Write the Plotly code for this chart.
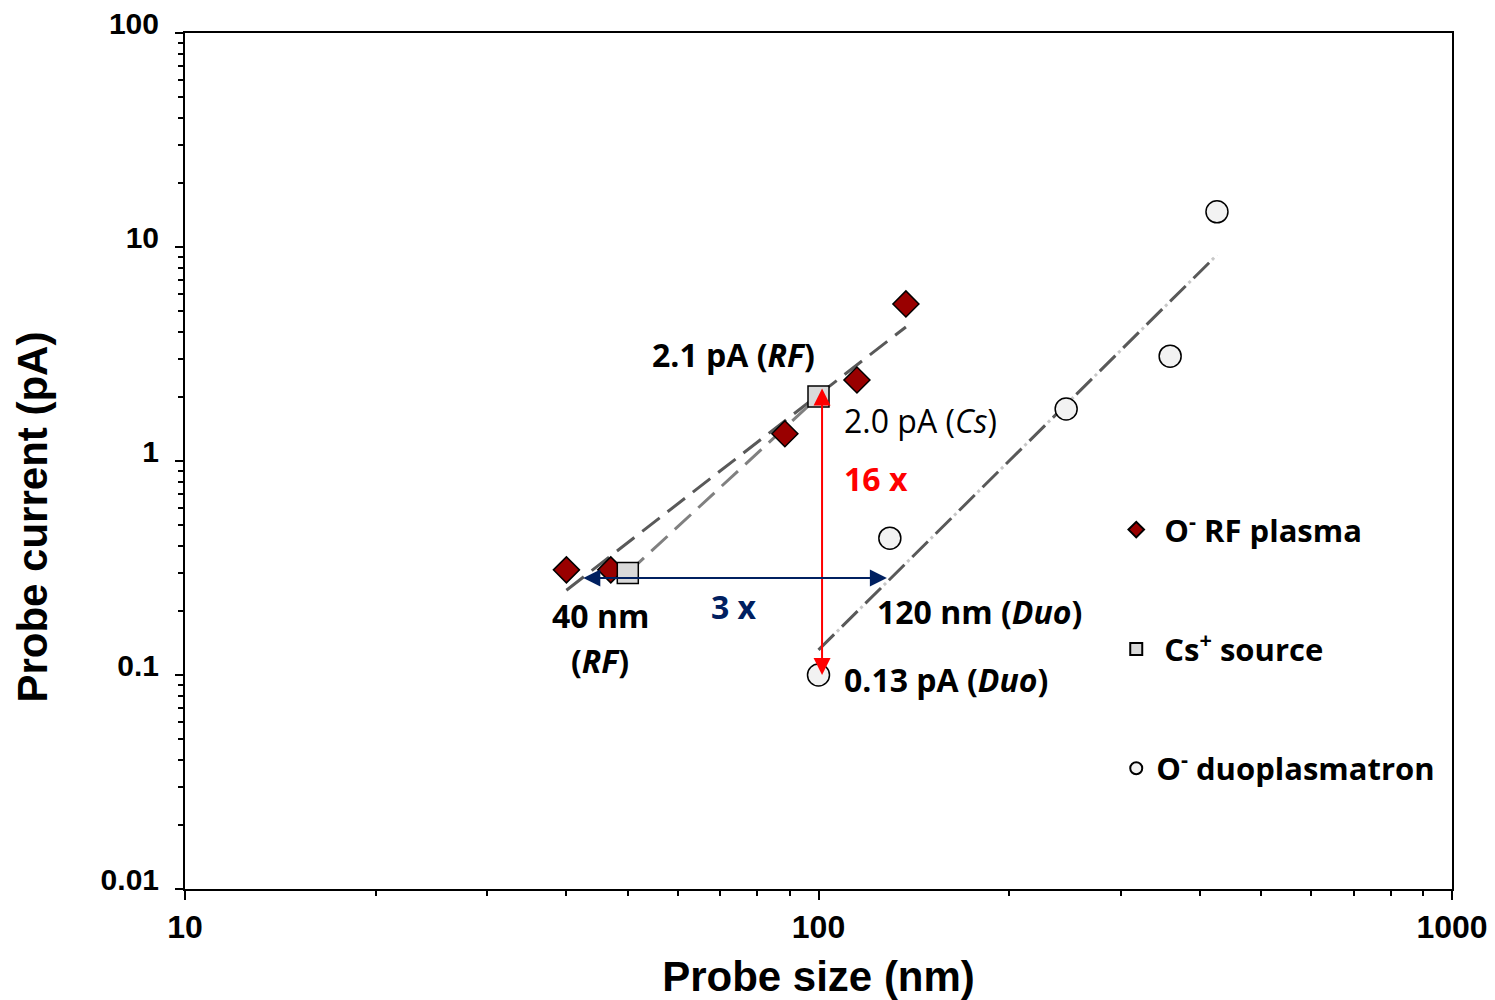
import numpy as np
import plotly.graph_objects as go

# ---------------- data ----------------
rf_size = [40, 47, 88.5, 115, 137.4]
rf_current = [0.31, 0.31, 1.34, 2.39, 5.42]

cs_size = [50, 100]
cs_current = [0.30, 2.0]

duo_size = [100, 129.6, 246, 359, 425.6]
duo_current = [0.10, 0.436, 1.75, 3.09, 14.6]

# trend-line end points
rf_fit_size = [40, 137.4]
rf_fit_current = [0.249, 4.23]
cs_fit_size = [50, 100]
cs_fit_current = [0.30, 2.0]
duo_fit_size = [100, 425.6]
duo_fit_current = [0.131, 9.18]

# arrows (data values)
red_arrow_x = 101.3
red_arrow_y = [2.22, 0.10]
blue_arrow_y = 0.284
blue_arrow_x = [42.3, 128.2]

x_tickvals = [10, 100, 1000]
x_ticktext = ["10", "100", "1000"]
y_tickvals = [0.01, 0.1, 1, 10, 100]
y_ticktext = ["0.01", "0.1", "1", "10", "100"]

legend_names = ["\u00a0O<sup>-</sup> RF plasma", "\u00a0Cs<sup>+</sup> source", "O<sup>-</sup> duoplasmatron"]

# ---------------- figure ----------------
AX_FONT = "Liberation Sans, Arial, sans-serif"
LB_FONT = "Open Sans, Lato, sans-serif"

fig = go.Figure()

# trend lines
fig.add_trace(go.Scatter(x=rf_fit_size, y=rf_fit_current, mode="lines",
                         line=dict(color="#595959", width=3, dash="22px,10px"),
                         showlegend=False, hoverinfo="skip"))
fig.add_trace(go.Scatter(x=cs_fit_size, y=cs_fit_current, mode="lines",
                         line=dict(color="#808080", width=3, dash="22px,10px"),
                         showlegend=False, hoverinfo="skip"))
fig.add_trace(go.Scatter(x=duo_fit_size, y=duo_fit_current, mode="lines",
                         line=dict(color="#C8C8C8", width=3, dash="0px,26px,3px,4px"),
                         showlegend=False, hoverinfo="skip"))
fig.add_trace(go.Scatter(x=duo_fit_size, y=duo_fit_current, mode="lines",
                         line=dict(color="#595959", width=3, dash="22px,11px"),
                         showlegend=False, hoverinfo="skip"))

# data markers
fig.add_trace(go.Scatter(x=rf_size, y=rf_current, mode="markers", name=legend_names[0],
                         legendgroup="a",
                         marker=dict(symbol="diamond", size=20, color="#990000",
                                     line=dict(color="black", width=1.5))))
fig.add_trace(go.Scatter(x=cs_size, y=cs_current, mode="markers", name=legend_names[1],
                         legendgroup="b",
                         marker=dict(symbol="square", size=21, color="#D9D9D9",
                                     line=dict(color="black", width=1.5))))
fig.add_trace(go.Scatter(x=duo_size, y=duo_current, mode="markers", name=legend_names[2],
                         legendgroup="c",
                         marker=dict(symbol="circle", size=22, color="#F2F2F2",
                                     line=dict(color="black", width=1.5))))

lx = np.log10
annotations = []

def label(x, y, text, xanchor="center", color="black", bold=True, size=32):
    annotations.append(dict(x=lx(x), y=lx(y), xref="x", yref="y", text=text,
                            showarrow=False, xanchor=xanchor, yanchor="middle",
                            font=dict(family=LB_FONT, size=size, color=color,
                                      weight="bold" if bold else "normal")))

label(73.3, 3.16, "2.1 pA (<i>RF</i>)")
label(108.8, 1.54, "2.0 pA (<i>Cs</i>)", xanchor="left", bold=False)
label(108.8, 0.824, "16 x", xanchor="left", color="#FF0000")
label(73.5, 0.208, "3 x", color="#002060")
label(45.2, 0.189, "40 nm")
label(45.2, 0.1175, "(<i>RF</i>)")
label(123.0, 0.197, "120 nm (<i>Duo</i>)", xanchor="left")
label(108.8, 0.0957, "0.13 pA (<i>Duo</i>)", xanchor="left")

# arrows
annotations.append(dict(x=lx(red_arrow_x), y=lx(red_arrow_y[1]),
                        ax=lx(red_arrow_x), ay=lx(red_arrow_y[0]),
                        xref="x", yref="y", axref="x", ayref="y", text="",
                        showarrow=True, arrowhead=2, arrowside="end+start",
                        arrowsize=1.7, arrowwidth=2, arrowcolor="#FF0000"))
annotations.append(dict(x=lx(blue_arrow_x[1]), y=lx(blue_arrow_y),
                        ax=lx(blue_arrow_x[0]), ay=lx(blue_arrow_y),
                        xref="x", yref="y", axref="x", ayref="y", text="",
                        showarrow=True, arrowhead=2, arrowside="end+start",
                        arrowsize=1.7, arrowwidth=2, arrowcolor="#002060"))

# y-axis title
annotations.append(dict(x=-0.12, y=0.435, xref="paper", yref="paper",
                        text="<b>Probe current (pA)</b>", textangle=-90, showarrow=False,
                        xanchor="center", yanchor="middle",
                        font=dict(family=AX_FONT, size=42, color="black")))

def minor_vals(lo, hi):
    v = []
    for d in range(lo, hi):
        for k in range(2, 10):
            v.append(k * 10 ** d)
    return v

fig.update_layout(
    width=1495, height=1000,
    margin=dict(l=185, r=43, t=33, b=111, autoexpand=False),
    paper_bgcolor="white", plot_bgcolor="white",
    annotations=annotations,
    showlegend=True,
    legend=dict(x=0.735, y=0.451, xanchor="left", yanchor="top",
                font=dict(family=LB_FONT, size=31, color="black", weight="bold"),
                itemsizing="constant", tracegroupgap=76, bgcolor="rgba(0,0,0,0)"),
    xaxis=dict(type="log", range=[1, 3], tickvals=x_tickvals, ticktext=x_ticktext,
               ticks="outside", ticklen=9, tickwidth=1.5, tickcolor="black",
               showline=True, linecolor="black", linewidth=2, mirror=True,
               showgrid=False, zeroline=False, automargin=False,
               tickfont=dict(family=AX_FONT, size=32, color="black", weight="bold"),
               minor=dict(tickvals=minor_vals(1, 3), ticks="outside", ticklen=5,
                          tickwidth=1.5, tickcolor="black", showgrid=False),
               title=dict(text="<b>Probe size (nm)</b>", standoff=18,
                          font=dict(family=AX_FONT, size=42, color="black"))),
    yaxis=dict(type="log", range=[-2, 2], tickvals=y_tickvals, ticktext=y_ticktext,
               ticks="outside", ticklen=8, tickwidth=1.5, tickcolor="black",
               showline=True, linecolor="black", linewidth=2, mirror=True,
               showgrid=False, zeroline=False, automargin=False,
               ticklabelshift=-10, ticklabelstandoff=10,
               tickfont=dict(family=AX_FONT, size=30, color="black", weight="bold"),
               minor=dict(tickvals=minor_vals(-2, 2), ticks="outside", ticklen=5,
                          tickwidth=1.5, tickcolor="black", showgrid=False)),
)

fig.write_html("out.html")
